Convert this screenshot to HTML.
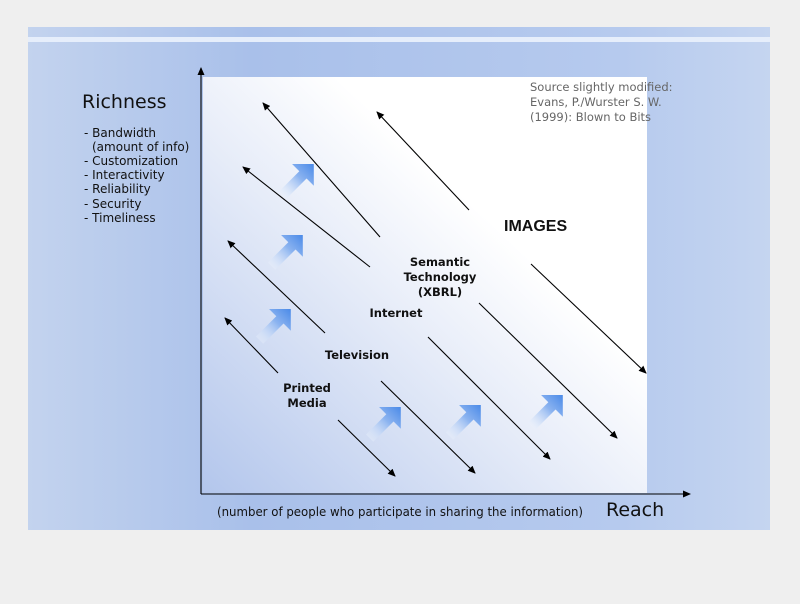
<!DOCTYPE html>
<html><head><style>
body{margin:0;width:800px;height:600px;background:#efefef;overflow:hidden;font-family:"DejaVu Sans","Liberation Sans",sans-serif}
</style></head><body>
<svg width="800" height="600" xmlns="http://www.w3.org/2000/svg">
<defs>
<linearGradient id="sl" x1="0" y1="0" x2="1" y2="0">
<stop offset="0" stop-color="#c3d3ee"/><stop offset="0.3" stop-color="#a9c0ea"/><stop offset="0.8" stop-color="#b6caee"/><stop offset="1" stop-color="#c5d5f0"/></linearGradient>
<linearGradient id="wh" x1="0" y1="1" x2="1" y2="0">
<stop offset="0" stop-color="#b3c6ec"/><stop offset="0.45" stop-color="#e9eef9"/><stop offset="0.65" stop-color="#ffffff"/><stop offset="1" stop-color="#ffffff"/></linearGradient>
<linearGradient id="ba" x1="0" y1="1" x2="1" y2="0">
<stop offset="0" stop-color="#ffffff" stop-opacity="0.2"/><stop offset="0.6" stop-color="#8cb4f0"/><stop offset="1" stop-color="#4a8ae8"/></linearGradient>
<marker id="ah" markerWidth="8" markerHeight="7" refX="7" refY="3.5" orient="auto" markerUnits="userSpaceOnUse"><path d="M0,0 L8,3.5 L0,7 Z" fill="#000"/></marker>
<g id="blk"><path d="M0,10 L14,-4 L9,-9 L24,-9 L24,6 L19,1 L5,15 Z" fill="url(#ba)" transform="scale(1.45)"/></g>
</defs>
<rect x="28" y="27" width="742" height="503" fill="url(#sl)"/>
<rect x="28" y="37" width="742" height="5" fill="#e6eefb"/>
<rect x="203" y="77" width="444" height="416" fill="url(#wh)"/>
<g stroke="#000" stroke-width="1.1" fill="none" marker-end="url(#ah)">
<line x1="201" y1="494" x2="201" y2="68"/>
<line x1="201" y1="494" x2="690" y2="494"/>
<line x1="380" y1="237" x2="263" y2="103"/>
<line x1="469" y1="210" x2="377" y2="112"/>
<line x1="370" y1="267" x2="243" y2="167"/>
<line x1="325" y1="333" x2="228" y2="241"/>
<line x1="278" y1="373" x2="225" y2="318"/>
<line x1="338" y1="420" x2="395" y2="476"/>
<line x1="381" y1="381" x2="475" y2="473"/>
<line x1="428" y1="337" x2="550" y2="459"/>
<line x1="479" y1="303" x2="617" y2="438"/>
<line x1="531" y1="264" x2="646" y2="373"/>
</g>
<use href="#blk" x="279" y="177"/>
<use href="#blk" x="268" y="248"/>
<use href="#blk" x="256" y="322"/>
<use href="#blk" x="366" y="420"/>
<use href="#blk" x="446" y="418"/>
<use href="#blk" x="528" y="408"/>
<text x="82" y="108" font-size="19" fill="#111">Richness</text>
<g font-size="12" fill="#111">
<text x="84" y="137">- Bandwidth</text>
<text x="92" y="151">(amount of info)</text>
<text x="84" y="165">- Customization</text>
<text x="84" y="179">- Interactivity</text>
<text x="84" y="193">- Reliability</text>
<text x="84" y="208">- Security</text>
<text x="84" y="222">- Timeliness</text>
</g>
<g font-size="11.5" fill="#666">
<text x="530" y="91">Source slightly modified:</text>
<text x="530" y="106">Evans, P./Wurster S. W.</text>
<text x="530" y="121">(1999): Blown to Bits</text>
</g>
<text x="504" y="231" font-size="16" font-weight="bold" font-family="Liberation Sans,sans-serif" fill="#111">IMAGES</text>
<g font-size="11.5" font-weight="bold" fill="#111" text-anchor="middle">
<text x="440" y="266">Semantic</text>
<text x="440" y="281">Technology</text>
<text x="440" y="296">(XBRL)</text>
<text x="396" y="317">Internet</text>
<text x="357" y="359">Television</text>
<text x="307" y="392">Printed</text>
<text x="307" y="407">Media</text>
</g>
<text x="217" y="516" font-size="12" fill="#111" textLength="366" lengthAdjust="spacingAndGlyphs">(number of people who participate in sharing the information)</text>
<text x="606" y="516" font-size="19" fill="#111">Reach</text>
</svg>
</body></html>
